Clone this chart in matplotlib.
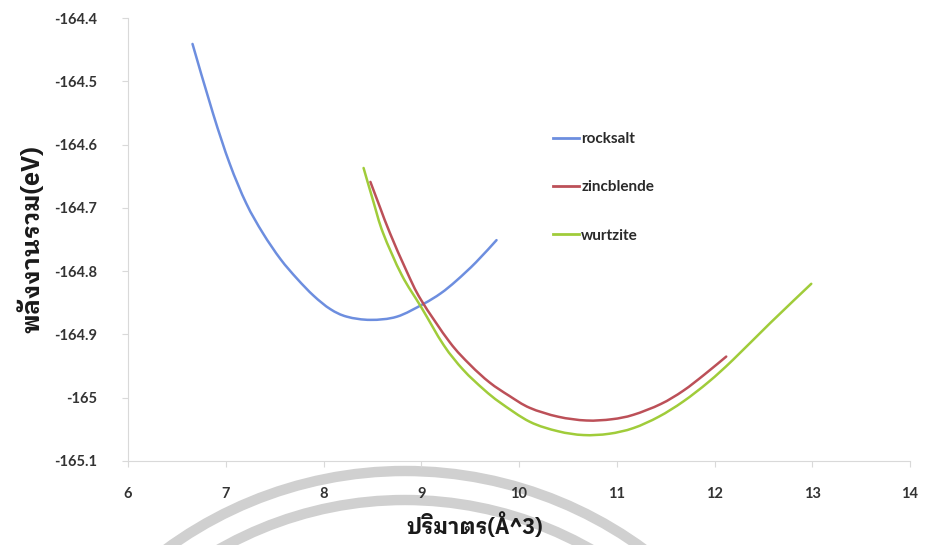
import matplotlib
matplotlib.use("Agg")
import matplotlib.pyplot as plt
from matplotlib import font_manager
from matplotlib.patches import Arc, PathPatch
from matplotlib.path import Path
from matplotlib.lines import Line2D

# ---- data: volume (Å^3) vs total energy (eV) ----
rocksalt_x = [6.66, 6.87, 7.04, 7.21, 7.38, 7.56, 7.73, 7.90, 8.07, 8.24,
              8.48, 8.75, 9.02, 9.20, 9.36, 9.56, 9.77]
rocksalt_y = [-164.441, -164.551, -164.630, -164.693, -164.740, -164.781,
              -164.812, -164.839, -164.860, -164.872, -164.877, -164.872,
              -164.852, -164.835, -164.815, -164.786, -164.751]

zincblende_x = [8.48, 8.58, 8.68, 8.85, 9.00, 9.29, 9.50, 9.70, 9.90, 10.11,
                10.40, 10.69, 10.95, 11.17, 11.45, 11.68, 11.90, 12.12]
zincblende_y = [-164.659, -164.700, -164.740, -164.800, -164.846, -164.912,
                -164.948, -164.976, -164.997, -165.016, -165.030, -165.036,
                -165.034, -165.027, -165.010, -164.989, -164.963, -164.935]

wurtzite_x = [8.41, 8.51, 8.61, 8.80, 9.00, 9.23, 9.43, 9.64, 9.81, 10.11,
              10.40, 10.66, 10.92, 11.17, 11.43, 11.68, 11.94, 12.19, 12.57, 12.99]
wurtzite_y = [-164.637, -164.690, -164.740, -164.806, -164.857, -164.917,
              -164.956, -164.987, -165.008, -165.038, -165.053, -165.059,
              -165.057, -165.048, -165.030, -165.006, -164.975, -164.940,
              -164.882, -164.820]

series_names = ["rocksalt", "zincblende", "wurtzite"]
series_colors = ["#6D8EDF", "#BC5058", "#A0CC3A"]

x_ticks = [6, 7, 8, 9, 10, 11, 12, 13, 14]
y_ticks = [-165.1, -165.0, -164.9, -164.8, -164.7, -164.6, -164.5, -164.4]
y_tick_labels = ["-165.1", "-165", "-164.9", "-164.8", "-164.7", "-164.6",
                 "-164.5", "-164.4"]

x_label = "ปริมาตร(Å^3)"
y_label = "พลังงานรวม(eV)"


def find_thai_font():
    """Return the path of an installed font that covers Thai script."""
    try:
        from fontTools.ttLib import TTFont
    except Exception:
        return None
    best = None
    for path in font_manager.findSystemFonts():
        try:
            tt = TTFont(path, fontNumber=0, lazy=True)
            cmap = tt.getBestCmap() or {}
        except Exception:
            continue
        if 0x0E1E in cmap and 0x0E21 in cmap:
            name = path.lower()
            score = 0
            if "bold" in name:
                score += 2
            if "sans" in name:
                score += 1
            if "looped" in name and "loopless" not in name:
                score += 1
            if best is None or score > best[0]:
                best = (score, path)
    return best[1] if best else None


def smooth_path(xs, ys):
    """Smoothed (Catmull-Rom style) Bezier path through the given points."""
    pts = list(zip(xs, ys))
    n = len(pts)
    verts = [pts[0]]
    codes = [Path.MOVETO]
    for i in range(n - 1):
        p0 = pts[i - 1] if i > 0 else pts[i]
        p1 = pts[i]
        p2 = pts[i + 1]
        p3 = pts[i + 2] if i + 2 < n else pts[i + 1]
        c1 = (p1[0] + (p2[0] - p0[0]) / 6, p1[1] + (p2[1] - p0[1]) / 6)
        c2 = (p2[0] - (p3[0] - p1[0]) / 6, p2[1] - (p3[1] - p1[1]) / 6)
        verts += [c1, c2, p2]
        codes += [Path.CURVE4] * 3
    return Path(verts, codes)


latin_family = "Lato"
thai_path = find_thai_font()
if thai_path:
    font_manager.fontManager.addfont(thai_path)
    thai_family = font_manager.FontProperties(fname=thai_path).get_name()
    label_family = [thai_family, latin_family, "DejaVu Sans"]
else:
    label_family = [latin_family, "DejaVu Sans"]

plt.rcParams["font.family"] = [latin_family, "DejaVu Sans"]

fig = plt.figure(figsize=(9.25, 5.45), dpi=100)
fig.patch.set_facecolor("white")

# faint logo arcs in the page background
bg = fig.add_axes([0, 0, 1, 1], zorder=0)
bg.set_xlim(0, 925)
bg.set_ylim(545, 0)
bg.axis("off")
for r in (404, 375):
    bg.add_patch(Arc((405, 875), 2 * r, 2 * r, theta1=180, theta2=360,
                     color="#d0d0d0", lw=7.5))

ax = fig.add_axes([128 / 925, 1 - 461 / 545, (910 - 128) / 925, (461 - 18) / 545],
                  zorder=1)
ax.patch.set_alpha(0)

handles = []
for xs, ys, name, col in zip([rocksalt_x, zincblende_x, wurtzite_x],
                             [rocksalt_y, zincblende_y, wurtzite_y],
                             series_names, series_colors):
    ax.add_patch(PathPatch(smooth_path(xs, ys), facecolor="none", edgecolor=col,
                           lw=1.8, capstyle="round", joinstyle="round"))
    handles.append(Line2D([], [], color=col, lw=2.0, label=name))

ax.set_xlim(6, 14)
ax.set_ylim(-165.1, -164.4)
ax.set_xticks(x_ticks)
ax.set_xticklabels([str(t) for t in x_ticks])
ax.set_yticks(y_ticks)
ax.set_yticklabels(y_tick_labels)

for side in ("top", "right"):
    ax.spines[side].set_visible(False)
for side in ("left", "bottom"):
    ax.spines[side].set_color("#d9d9d9")
    ax.spines[side].set_linewidth(0.8)

ax.tick_params(axis="both", colors="#d9d9d9", length=4, width=0.8,
               labelcolor="#333333", labelsize=10.5)
ax.tick_params(axis="y", pad=18)
ax.tick_params(axis="x", pad=15)
for lab in ax.get_xticklabels() + ax.get_yticklabels():
    lab.set_fontweight("bold")

ax.set_xlabel(x_label, family=label_family, fontsize=15.5, fontweight="bold",
              color="#1a1a1a")
ax.xaxis.set_label_coords((475 - 128) / 782, (461 - 512) / 443)
ax.set_ylabel(y_label, family=label_family, fontsize=18, fontweight="bold",
              color="#1a1a1a")
ax.yaxis.set_label_coords((44 - 128) / 782, 0.5)

leg = ax.legend(handles=handles, loc="upper left",
                bbox_to_anchor=(553 / 925, 1 - 132 / 545),
                bbox_transform=fig.transFigure, frameon=False, fontsize=11,
                handlelength=1.7, handletextpad=0.15, labelspacing=2.25,
                borderpad=0, borderaxespad=0)
for t in leg.get_texts():
    t.set_fontweight("bold")
    t.set_color("#2a2a2a")

fig.savefig("out.png", dpi=100, facecolor="white")
